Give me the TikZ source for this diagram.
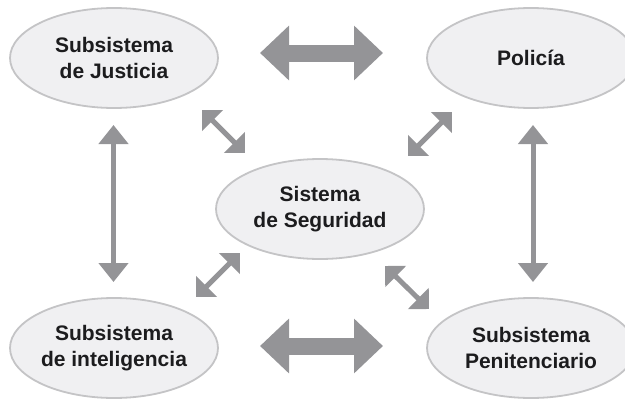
\documentclass[tikz,border=0pt]{standalone}
\usepackage{fontspec}
\setmainfont{Liberation Sans}
\usetikzlibrary{shapes.geometric,arrows.meta,positioning}

\definecolor{flecha}{RGB}{148,148,151}
\definecolor{fondo}{RGB}{240,240,242}
\definecolor{borde}{RGB}{196,196,198}
\definecolor{texto}{RGB}{28,28,30}

\begin{document}
\begin{tikzpicture}[x = 1pt, y = -1pt,
  ovalo/.style = {ellipse, draw = borde, line width = 1.8pt, fill = fondo,
    minimum width = 208pt, minimum height = 100pt, inner sep = 0pt,
    align = center, text = texto, font = \fontsize{21}{25.5}\selectfont\bfseries},
  doble/.style = {draw = flecha, line width = 5pt,
    {Triangle[width = 29pt, length = 19pt]}-{Triangle[width = 29pt, length = 19pt]}},
  diagonal/.style = {draw = flecha, line width = 5pt,
    {Triangle[width = 29pt, length = 15pt]}-{Triangle[width = 29pt, length = 15pt]}},
  gruesa/.style = {draw = flecha, line width = 17pt,
    {Triangle[width = 53pt, length = 29pt]}-{Triangle[width = 53pt, length = 29pt]}}]
\useasboundingbox (0,0) rectangle (625,399);
\node[ovalo] (justicia) at (114,58) {Subsistema\\de Justicia};
\node[ovalo] (policia) at (531,58) {Policía};
\node[ovalo] (seguridad) at (320,209) {Sistema\\de Seguridad};
\node[ovalo] (inteligencia) at (114,348) {Subsistema\\de inteligencia};
\node[ovalo] (penitenciario) at (531,348) {Subsistema\\Penitenciario};
% extremos de las flechas
\coordinate (A1) at (260,53);
\coordinate (A2) at (383,53);
\coordinate (B1) at (260,346);
\coordinate (B2) at (383,346);
\coordinate (C1) at (113.5,125);
\coordinate (C2) at (113.5,282);
\coordinate (D1) at (533,125);
\coordinate (D2) at (533,282);
\coordinate (E1) at (202,110);
\coordinate (E2) at (245,153);
\coordinate (F1) at (452,112);
\coordinate (F2) at (408,156);
\coordinate (G1) at (196,297);
\coordinate (G2) at (240,253);
\coordinate (H1) at (385,266);
\coordinate (H2) at (429,309);
\draw[gruesa] (A1) -- (A2);
\draw[gruesa] (B1) -- (B2);
\draw[doble] (C1) -- (C2);
\draw[doble] (D1) -- (D2);
\draw[diagonal] (E1) -- (E2);
\draw[diagonal] (F1) -- (F2);
\draw[diagonal] (G1) -- (G2);
\draw[diagonal] (H1) -- (H2);
\end{tikzpicture}
\end{document}
